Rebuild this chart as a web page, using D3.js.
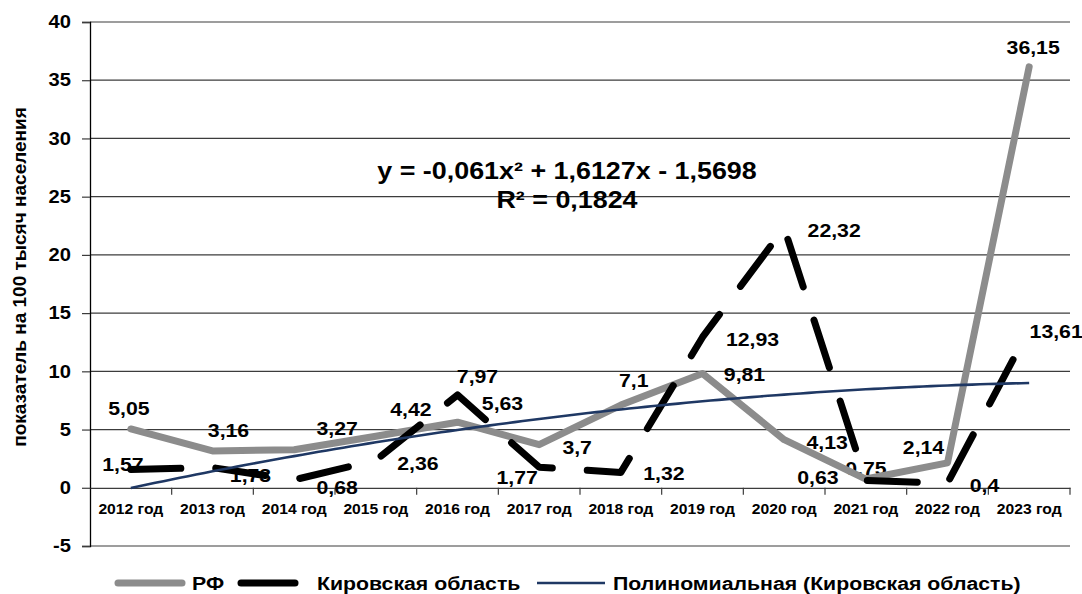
<!DOCTYPE html>
<html><head><meta charset="utf-8">
<script src="https://cdn.jsdelivr.net/npm/d3@7"></script>
<style>
html,body{margin:0;padding:0;background:#fff;}
svg{display:block;font-family:"Liberation Sans",Arial,sans-serif;font-weight:bold;}
</style></head>
<body><svg id="chart" width="1082" height="594"></svg>
<script>
// ---- data ----
const years = ["2012 год","2013 год","2014 год","2015 год","2016 год","2017 год","2018 год","2019 год","2020 год","2021 год","2022 год","2023 год"];
const rfValues = [5.05,3.16,3.27,4.42,5.63,3.7,7.1,9.81,4.13,0.75,2.14,36.15];
const kirovValues = [1.57,1.73,0.68,2.36,7.97,1.77,1.32,12.93,22.32,0.63,0.4,13.61];
const yTicks = [-5,0,5,10,15,20,25,30,35,40];
const seriesNames = ["РФ","Кировская область","Полиномиальная (Кировская область)"];
const yTitle = "показатель на 100 тысяч населения";
const equationLines = ["y = -0,061x² + 1,6127x - 1,5698","R² = 0,1824"];

// ---- label placement (style, not data) ----
const rfNudge = [[-2,-21],[16,-21],[43,-22],[35,-27],[45,-19],[38,2],[13,-25],[42,1],[43,2],[0,-11],[-24,-16],[4,-20]];
const kirovNudge = [[-8,-5],[38,8],[43,7],[42,3],[20,-19],[-22,10],[43,1],[50,2],[50,2],[-48,-3],[37,2],[27,2]];

const SX = 1.12; // horizontal text stretch
const fmt = v => String(v).replace(".", ",");

const svg = d3.select("#chart");
const pLeft = 90, pRight = 1070, pTop = 22, pBottom = 546;

const x = d3.scaleBand().domain(years).range([pLeft, pRight]).padding(0);
const bw = x.bandwidth();
const cx = d => x(d) + bw / 2;
const y = d3.scaleLinear().domain([-5, 40]).range([pBottom, pTop]);
const xi = d3.scaleLinear().domain([1, years.length]).range([cx(years[0]), cx(years[years.length-1])]);

// gridlines
svg.append("g").selectAll("line").data(yTicks.filter(t => t !== 0)).join("line")
  .attr("x1", pLeft).attr("x2", pRight)
  .attr("y1", d => y(d)).attr("y2", d => y(d))
  .attr("stroke", "#3c3c3c").attr("stroke-width", 1.2);

// y axis
const yAxis = svg.append("g").attr("transform", `translate(${pLeft},0)`)
  .call(d3.axisLeft(y).tickValues(yTicks).tickSize(8).tickPadding(9).tickFormat(d => String(d)));
yAxis.select(".domain").attr("stroke", "#000").attr("stroke-width", 1.3);
yAxis.selectAll(".tick line").attr("stroke", "#3c3c3c").attr("stroke-width", 1.2);
yAxis.selectAll("text").attr("font-size", 18).attr("font-weight", "bold").attr("fill", "#000")
  .attr("font-family", "Liberation Sans, Arial, sans-serif")
  .attr("transform", `scale(${SX},1)`);

// x axis at zero
const xAxis = svg.append("g").attr("transform", `translate(0,${y(0)})`)
  .call(d3.axisBottom(x).tickSize(0).tickPadding(16));
xAxis.select(".domain").attr("stroke", "#3c3c3c").attr("stroke-width", 1.2);
xAxis.selectAll("text").attr("font-size", 14).attr("font-weight", "bold").attr("fill", "#000")
  .attr("font-family", "Liberation Sans, Arial, sans-serif")
  .attr("transform", `scale(${SX},1)`);
// category boundary ticks
svg.append("g").selectAll("line").data(years).join("line")
  .attr("x1", d => x(d) + bw).attr("x2", d => x(d) + bw)
  .attr("y1", y(0)).attr("y2", y(0) + 7)
  .attr("stroke", "#3c3c3c").attr("stroke-width", 1.2);

// helper for stretched text
function stext(g, tx, ty, str, size, anchor) {
  return g.append("text")
    .attr("transform", `translate(${tx},${ty}) scale(${SX},1)`)
    .attr("text-anchor", anchor || "middle")
    .attr("dy", "0.36em")
    .attr("font-size", size).attr("fill", "#000").text(str);
}

// data labels (drawn under lines, as in reference)
const lab = svg.append("g");
rfValues.forEach((v, i) => stext(lab, cx(years[i]) + rfNudge[i][0], y(v) + rfNudge[i][1], fmt(v), 19));
kirovValues.forEach((v, i) => stext(lab, cx(years[i]) + kirovNudge[i][0], y(v) + kirovNudge[i][1], fmt(v), 19));

// lines
const line = d3.line().x((d, i) => cx(years[i])).y(d => y(d));
svg.append("path").datum(rfValues).attr("d", line)
  .attr("fill", "none").attr("stroke", "#8c8c8c").attr("stroke-width", 7)
  .attr("stroke-linejoin", "round").attr("stroke-linecap", "round");
svg.append("path").datum(kirovValues).attr("d", line)
  .attr("fill", "none").attr("stroke", "#000").attr("stroke-width", 7)
  .attr("stroke-linejoin", "round").attr("stroke-linecap", "round")
  .attr("stroke-dasharray", "50,35");

// polynomial (order 2) least-squares trend of Kirov series
function polyfit2(xs, ys) {
  let S = [0,0,0,0,0], T = [0,0,0];
  xs.forEach((xv, k) => {
    for (let p = 0; p < 5; p++) S[p] += Math.pow(xv, p);
    for (let p = 0; p < 3; p++) T[p] += ys[k] * Math.pow(xv, p);
  });
  const A = [[S[0],S[1],S[2],T[0]],[S[1],S[2],S[3],T[1]],[S[2],S[3],S[4],T[2]]];
  for (let c = 0; c < 3; c++) {
    for (let r = c + 1; r < 3; r++) {
      const f = A[r][c] / A[c][c];
      for (let k = c; k < 4; k++) A[r][k] -= f * A[c][k];
    }
  }
  const coef = [0,0,0];
  for (let r = 2; r >= 0; r--) {
    let s = A[r][3];
    for (let k = r + 1; k < 3; k++) s -= A[r][k] * coef[k];
    coef[r] = s / A[r][r];
  }
  return coef; // c0 + c1 x + c2 x^2
}
const xs = kirovValues.map((d, i) => i + 1);
const coef = polyfit2(xs, kirovValues);
const trendPts = d3.range(1, years.length + 0.0001, 0.1).map(t => [t, coef[0] + coef[1]*t + coef[2]*t*t]);
svg.append("path").datum(trendPts)
  .attr("d", d3.line().x(d => xi(d[0])).y(d => y(d[1])))
  .attr("fill", "none").attr("stroke", "#1f3864").attr("stroke-width", 2.6);

// equation
const eq = svg.append("g");
stext(eq, 567, 170, equationLines[0], 24);
stext(eq, 567, 199, equationLines[1], 24);

// y-axis title
svg.append("text")
  .attr("transform", `translate(19,277) rotate(-90)`)
  .attr("text-anchor", "middle").attr("dy", "0.36em")
  .attr("font-size", 19).attr("fill", "#000").text(yTitle);

// legend
const lg = svg.append("g");
const ly = 583;
lg.append("line").attr("x1", 118).attr("x2", 182).attr("y1", ly).attr("y2", ly)
  .attr("stroke", "#8c8c8c").attr("stroke-width", 7).attr("stroke-linecap", "round");
stext(lg, 192, ly, seriesNames[0], 19, "start");
lg.append("line").attr("x1", 241).attr("x2", 295).attr("y1", ly).attr("y2", ly)
  .attr("stroke", "#000").attr("stroke-width", 7).attr("stroke-linecap", "round");
stext(lg, 317, ly, seriesNames[1], 19, "start");
lg.append("line").attr("x1", 537).attr("x2", 605).attr("y1", ly).attr("y2", ly)
  .attr("stroke", "#1f3864").attr("stroke-width", 2.6);
stext(lg, 613, ly, seriesNames[2], 19, "start");
</script></body></html>
